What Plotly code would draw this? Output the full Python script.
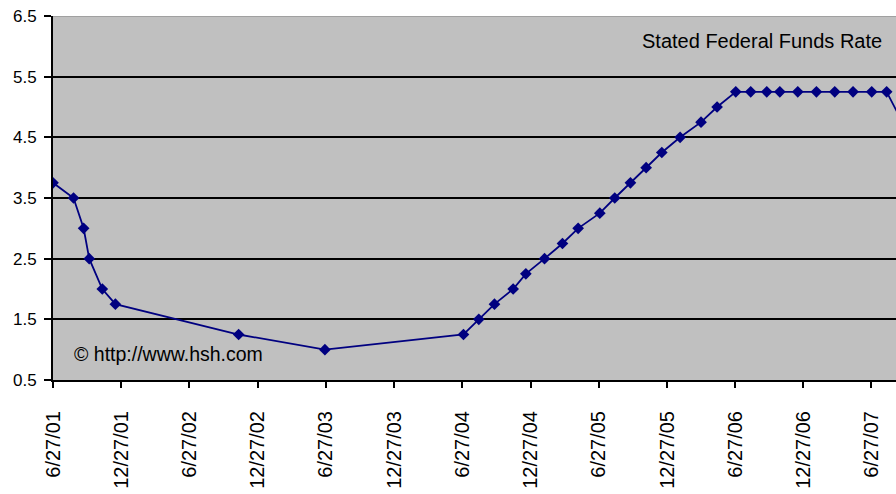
import plotly.graph_objects as go

dates = ["2001-06-27", "2001-08-21", "2001-09-17", "2001-10-02", "2001-11-06",
         "2001-12-11", "2002-11-06", "2003-06-25", "2004-06-30", "2004-08-10",
         "2004-09-21", "2004-11-10", "2004-12-14", "2005-02-02", "2005-03-22",
         "2005-05-03", "2005-06-30", "2005-08-09", "2005-09-20", "2005-11-01",
         "2005-12-13", "2006-01-31", "2006-03-28", "2006-05-10", "2006-06-29",
         "2006-08-08", "2006-09-20", "2006-10-25", "2006-12-12", "2007-01-31",
         "2007-03-21", "2007-05-09", "2007-06-28", "2007-08-07", "2007-09-18"]
rates = [3.75, 3.50, 3.00, 2.50, 2.00,
         1.75, 1.25, 1.00, 1.25, 1.50,
         1.75, 2.00, 2.25, 2.50, 2.75,
         3.00, 3.25, 3.50, 3.75, 4.00,
         4.25, 4.50, 4.75, 5.00, 5.25,
         5.25, 5.25, 5.25, 5.25, 5.25,
         5.25, 5.25, 5.25, 5.25, 4.75]
y_ticks = [0.5, 1.5, 2.5, 3.5, 4.5, 5.5, 6.5]
series_name = "Stated Federal Funds Rate"
source_text = "© http://www.hsh.com"

FONT = "Liberation Sans, Arial, sans-serif"

fig = go.Figure()
fig.add_trace(go.Scatter(
    x=dates, y=rates, mode="lines+markers", name=series_name,
    line=dict(color="#000080", width=1.8),
    marker=dict(symbol="diamond", size=9, color="#000080"),
    cliponaxis=True,
))

fig.update_layout(
    width=896, height=494,
    margin=dict(l=53, r=0, t=16, b=114),
    paper_bgcolor="white", plot_bgcolor="#C0C0C0",
    showlegend=False,
    font=dict(family=FONT, color="black"),
    xaxis=dict(
        type="date", range=["2001-06-27", "2007-09-01"],
        tick0="2001-06-27", dtick="M6", tickformat="%-m/%d/%y",
        tickangle=-90, tickfont=dict(size=20, family=FONT),
        showgrid=False, showline=True, linecolor="black", linewidth=2,
        ticks="outside", ticklen=6, tickwidth=2, tickcolor="black",
        ticklabelstandoff=15, zeroline=False,
    ),
    yaxis=dict(
        range=[0.5, 6.5], tickvals=y_ticks, ticktext=[f"{v:.1f}" for v in y_ticks],
        tickfont=dict(size=17, family=FONT),
        showgrid=True, gridcolor="black", gridwidth=2,
        showline=True, linecolor="black", linewidth=2,
        ticks="outside", ticklen=7, tickwidth=2, tickcolor="black",
        ticklabelstandoff=4, zeroline=False,
    ),
    annotations=[
        dict(text=series_name, xref="paper", yref="paper", x=0.696, y=0.931,
             xanchor="left", yanchor="middle", showarrow=False,
             font=dict(size=20, family=FONT, color="black")),
        dict(text=source_text, xref="paper", yref="paper", x=0.0225, y=0.0714,
             xanchor="left", yanchor="middle", showarrow=False,
             font=dict(size=19.5, family=FONT, color="black")),
    ],
    shapes=[
        dict(type="line", xref="paper", yref="y", x0=0, x1=1, y0=6.5, y1=6.5,
             line=dict(color="#A0A0A0", width=2), layer="above"),
    ],
)

fig.write_html("out.html", config={"displayModeBar": False},
               post_script="document.body.style.margin='0';document.body.style.overflow='hidden';")
